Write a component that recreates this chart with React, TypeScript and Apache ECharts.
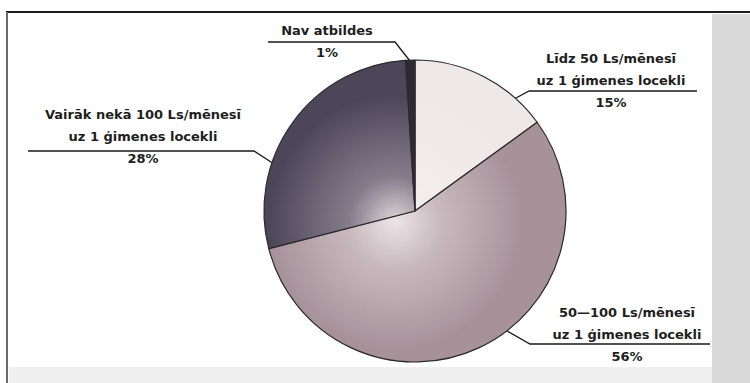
import React, { useEffect, useRef } from "react";
import * as echarts from "echarts";

const categories = [
  "Līdz 50 Ls/mēnesī\nuz 1 ģimenes locekli",
  "50—100 Ls/mēnesī\nuz 1 ģimenes locekli",
  "Vairāk nekā 100 Ls/mēnesī\nuz 1 ģimenes locekli",
  "Nav atbildes",
];
const values = [15, 56, 28, 1];

const baseColors = ["#eee8e9", "#a7929a", "#4d4659", "#2e2a34"];
const lightColors = ["#f6f2f2", "#ebe3e5", "#ddd5d8", "#3a3540"];
const midColors = ["#f2ecec", "#c8b9be", "#857b8b", "#302c36"];

// label anchor points (layout only)
const labelPos = [
  { x: 611, y: 80 },
  { x: 627, y: 334 },
  { x: 143, y: 136 },
  { x: 327, y: 41 },
];
const linePts = [
  [[505, 104], [529, 91], [697, 91]],
  [[500, 327], [530, 344], [710, 344]],
  [[274, 164], [254, 151], [28, 151]],
  [[410, 61], [395, 42], [268, 42]],
];

export default function App() {
  const ref = useRef<HTMLDivElement>(null);
  useEffect(() => {
    const chart = echarts.init(ref.current!, null, { renderer: "svg" });
    const data = values.map((v, i) => ({
      name: categories[i],
      value: v,
      itemStyle: {
        color: {
          type: "radial",
          x: 395,
          y: 222,
          r: 230,
          global: true,
          colorStops: [
            { offset: 0, color: lightColors[i] },
            { offset: 0.2, color: midColors[i] },
            { offset: 0.55, color: baseColors[i] },
            { offset: 1, color: baseColors[i] },
          ],
        },
      },
    }));
    chart.setOption({
      animation: false,
      graphic: [
        { type: "rect", shape: { x: 0, y: 0, width: 750, height: 383 }, style: { fill: "#ffffff" }, silent: true },
        { type: "rect", shape: { x: 9, y: 367, width: 703, height: 16 }, style: { fill: "#efefef" }, silent: true },
        { type: "rect", shape: { x: 712, y: 14, width: 38, height: 369 }, style: { fill: "#d9d9d9" }, silent: true },
        { type: "line", shape: { x1: 6, y1: 12, x2: 750, y2: 12 }, style: { stroke: "#1a1a1a", lineWidth: 2 }, silent: true },
        { type: "line", shape: { x1: 7, y1: 12, x2: 7, y2: 383 }, style: { stroke: "#6a6a6a", lineWidth: 2 }, silent: true },
      ],
      series: [
        {
          type: "pie",
          center: [415, 211],
          radius: 151,
          startAngle: 90,
          clockwise: true,
          data,
          itemStyle: { borderColor: "#2a2a2a", borderWidth: 1.2 },
          emphasis: { disabled: true },
          label: {
            show: true,
            formatter: (p: any) => `${p.name}\n${p.value}%`,
            fontFamily: "DejaVu Sans",
            fontWeight: "bold",
            fontSize: 13,
            lineHeight: 22,
            color: "#1e1e1e",
            align: "center",
          },
          labelLine: {
            show: true,
            lineStyle: { color: "#1a1a1a", width: 1.3 },
          },
          labelLayout: (params: any) => {
            const i = params.dataIndex;
            return {
              x: labelPos[i].x,
              y: labelPos[i].y,
              align: "center",
              verticalAlign: "middle",
              labelLinePoints: linePts[i],
            };
          },
        },
      ],
    });
    return () => chart.dispose();
  }, []);
  return (
    <div
      ref={ref}
      style={{ position: "absolute", left: 0, top: 0, width: 750, height: 383 }}
    />
  );
}
